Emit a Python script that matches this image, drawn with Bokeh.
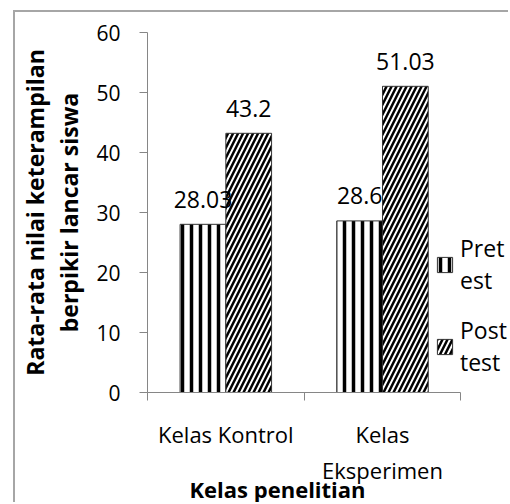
from bokeh.plotting import figure
from bokeh.models import (Range1d, FixedTicker, ColumnDataSource, Legend, LegendItem, Title,
                          InlineStyleSheet)
from bokeh.transform import dodge
from bokeh.core.properties import value
from bokeh.embed import file_html
from bokeh.resources import INLINE

# ---- data ----
categories = ["Kelas Kontrol", "Kelas\nEksperimen"]
pretest = [28.03, 28.6]
posttest = [43.2, 51.03]
pretest_labels = ["28.03", "28.6"]
posttest_labels = ["43.2", "51.03"]
series_names = ["Pret\nest", "Post\ntest"]
y_ticks = [0, 10, 20, 30, 40, 50, 60]
x_title = "Kelas penelitian"
y_title = "Rata-rata nilai keterampilan\nberpikir lancar siswa"

FONT = "Open Sans"
AXIS_GRAY = "#868686"

n = len(categories)
cat_pos = [i + 0.5 for i in range(n)]          # category centres on a numeric scale
cat_edges = [float(i) for i in range(n + 1)]   # tick marks between categories

src = ColumnDataSource(dict(x=cat_pos, pre=pretest, post=posttest,
                            pre_lbl=pretest_labels, post_lbl=posttest_labels))

border_css = InlineStyleSheet(css=":host { border-left: 2px solid #a6a6a6; border-top: 2px solid #a6a6a6; }")

# the frame runs to the right edge so the legend (drawn in the frame) is not clipped;
# the x axis itself is bounded to the two categories
p = figure(width=495, height=492, x_range=Range1d(0, 2.317), y_range=Range1d(0, 60),
           output_backend="svg", toolbar_location=None,
           min_border_left=130, min_border_right=0, min_border_top=20, min_border_bottom=112,
           margin=(10, 0, 0, 13), stylesheets=[border_css])
p.border_fill_color = None
p.background_fill_color = None
p.xgrid.grid_line_color = None
p.ygrid.grid_line_color = None
p.outline_line_color = None

# y axis
ya = p.yaxis[0]
ya.ticker = FixedTicker(ticks=y_ticks)
ya.axis_line_color = AXIS_GRAY
ya.major_tick_line_color = AXIS_GRAY
ya.major_tick_out = 8
ya.major_tick_in = 0
ya.minor_tick_line_color = None
ya.major_label_text_font = FONT
ya.major_label_text_font_size = "21px"
ya.major_label_text_color = "black"
ya.major_label_standoff = 19
ya.axis_label = y_title
ya.axis_label_text_font = FONT
ya.axis_label_text_font_size = "23px"
ya.axis_label_text_font_style = "bold"
ya.axis_label_text_color = "black"
ya.axis_label_text_line_height = 1.085
ya.axis_label_standoff = 8

# x axis: labels at category centres, tick marks between categories
xa = p.xaxis[0]
xa.ticker = FixedTicker(ticks=cat_pos, minor_ticks=cat_edges)
xa.bounds = (0, n)
xa.major_label_overrides = {pos: lab for pos, lab in zip(cat_pos, categories)}
xa.axis_line_color = AXIS_GRAY
xa.major_tick_line_color = None
xa.major_tick_out = 0
xa.major_tick_in = 0
xa.minor_tick_line_color = AXIS_GRAY
xa.minor_tick_out = 8
xa.minor_tick_in = 0
xa.major_label_text_font = FONT
xa.major_label_text_font_size = "22px"
xa.major_label_text_color = "black"
xa.major_label_standoff = 18
xa.major_label_text_line_height = 1.2

# x axis title, under the category area (not the whole frame)
p.add_layout(Title(text=x_title, align="left", offset=42, standoff=-32,
                   text_font=FONT, text_font_size="22px", text_font_style="bold",
                   text_color="black"), "below")

# bars
r_pre = p.vbar(x=dodge("x", -0.146), top="pre", width=0.292, source=src,
               fill_color="white", hatch_pattern="vertical_line", hatch_color="black",
               hatch_scale=9, hatch_weight=3.5, line_color="#333333", line_width=1)
r_post = p.vbar(x=dodge("x", 0.146), top="post", width=0.292, source=src,
                fill_color="white", hatch_pattern="right_diagonal_line", hatch_color="black",
                hatch_scale=10, hatch_weight=2.5, line_color="#333333", line_width=1)

# data labels
p.text(x=dodge("x", -0.146), y="pre", text="pre_lbl", source=src,
       text_align="center", text_baseline="alphabetic", y_offset=-25,
       text_font=value(FONT), text_font_size="23px", text_color="black")
p.text(x=dodge("x", 0.146), y="post", text="post_lbl", source=src,
       text_align="center", text_baseline="alphabetic", y_offset=-25,
       text_font=value(FONT), text_font_size="23px", text_color="black")

# legend
legend = Legend(items=[LegendItem(label=series_names[0], renderers=[r_pre]),
                       LegendItem(label=series_names[1], renderers=[r_post])],
                location=(288, 14), padding=0, margin=0, border_line_color=None,
                background_fill_alpha=0, glyph_width=19, glyph_height=19,
                label_standoff=6, spacing=18,
                label_text_font=FONT, label_text_font_size="23px",
                label_text_line_height=1.2, label_text_color="black")
p.add_layout(legend)

open("out.html", "w").write(file_html(p, INLINE))
